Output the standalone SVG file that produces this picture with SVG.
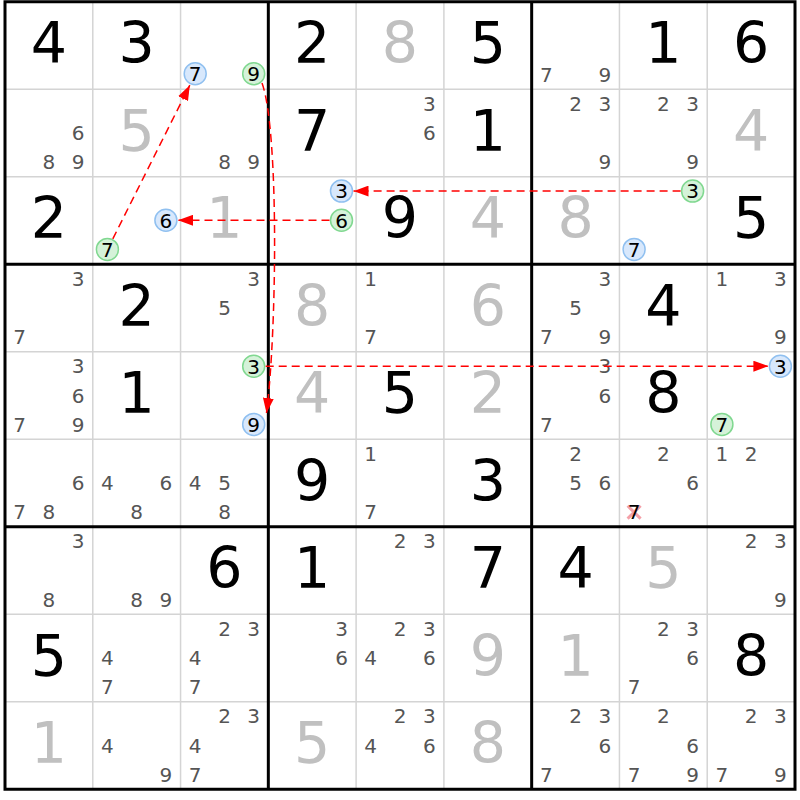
<svg xmlns="http://www.w3.org/2000/svg" width="800" height="800" viewBox="0 0 800 800">
<style>
text{font-family:"DejaVu Sans","Liberation Sans",sans-serif;text-anchor:middle}
.g{font-size:57px;fill:#000}
.s{font-size:57px;fill:#c0c0c0}
.c{font-size:20px;fill:#555}
.k{font-size:20px;fill:#000}
.cb{fill:#d8e8fc;stroke:#90c0f0;stroke-width:1.5}
.cg{fill:#d5f2d9;stroke:#80d890;stroke-width:1.5}
.thin{stroke:#d4d4d4;stroke-width:1.5}
.thick{stroke:#000;stroke-width:3}
.lk{fill:none;stroke:#ff0000;stroke-width:1.5;stroke-dasharray:8,5;marker-end:url(#ah)}
</style>
<defs>
<marker id="ah" markerWidth="15" markerHeight="11" refX="15" refY="5.5" orient="auto" markerUnits="userSpaceOnUse"><path d="M0,0 L15,5.5 L0,11 z" fill="#ff0000"/></marker>
</defs>
<rect x="0" y="0" width="800" height="800" fill="#fff"/>
<g id="grid">
<g class="thin">
<line x1="92.78" y1="1.75" x2="92.78" y2="789.25"/>
<line x1="180.56" y1="1.75" x2="180.56" y2="789.25"/>
<line x1="356.11" y1="1.75" x2="356.11" y2="789.25"/>
<line x1="443.89" y1="1.75" x2="443.89" y2="789.25"/>
<line x1="619.44" y1="1.75" x2="619.44" y2="789.25"/>
<line x1="707.22" y1="1.75" x2="707.22" y2="789.25"/>
<line x1="5" y1="89.25" x2="795" y2="89.25"/>
<line x1="5" y1="176.75" x2="795" y2="176.75"/>
<line x1="5" y1="351.75" x2="795" y2="351.75"/>
<line x1="5" y1="439.25" x2="795" y2="439.25"/>
<line x1="5" y1="614.25" x2="795" y2="614.25"/>
<line x1="5" y1="701.75" x2="795" y2="701.75"/>
</g>
<g class="thick">
<line x1="268.33" y1="1.75" x2="268.33" y2="789.25"/>
<line x1="531.67" y1="1.75" x2="531.67" y2="789.25"/>
<line x1="5" y1="264.25" x2="795" y2="264.25"/>
<line x1="5" y1="526.75" x2="795" y2="526.75"/>
<rect x="5" y="1.75" width="790" height="787.5" fill="none"/>
</g>
</g>
<g id="r1c1"><text class="g" x="48.9" y="63.3">4</text></g>
<g id="r1c2"><text class="g" x="136.7" y="63.3">3</text></g>
<g id="r1c3"><circle class="cb" cx="195.2" cy="73.8" r="11"/><text class="k" x="195.2" y="81.1">7</text><circle class="cg" cx="253.7" cy="73.8" r="11"/><text class="k" x="253.7" y="81.1">9</text></g>
<g id="r1c4"><text class="g" x="312.2" y="63.3">2</text></g>
<g id="r1c5"><text class="s" x="400" y="63.3">8</text></g>
<g id="r1c6"><text class="g" x="487.8" y="63.3">5</text></g>
<g id="r1c7"><text class="c" x="546.3" y="81.6">7</text><text class="c" x="604.8" y="81.6">9</text></g>
<g id="r1c8"><text class="g" x="663.3" y="63.3">1</text></g>
<g id="r1c9"><text class="g" x="751.1" y="63.3">6</text></g>

<g id="r2c1"><text class="c" x="78.2" y="140">6</text><text class="c" x="48.9" y="169.2">8</text><text class="c" x="78.2" y="169.2">9</text></g>
<g id="r2c2"><text class="s" x="136.7" y="150.8">5</text></g>
<g id="r2c3"><text class="c" x="224.5" y="169.2">8</text><text class="c" x="253.7" y="169.2">9</text></g>
<g id="r2c4"><text class="g" x="312.2" y="150.8">7</text></g>
<g id="r2c5"><text class="c" x="429.3" y="110.9">3</text><text class="c" x="429.3" y="140">6</text></g>
<g id="r2c6"><text class="g" x="487.8" y="150.8">1</text></g>
<g id="r2c7"><text class="c" x="575.6" y="110.9">2</text><text class="c" x="604.8" y="110.9">3</text><text class="c" x="604.8" y="169.2">9</text></g>
<g id="r2c8"><text class="c" x="663.3" y="110.9">2</text><text class="c" x="692.6" y="110.9">3</text><text class="c" x="692.6" y="169.2">9</text></g>
<g id="r2c9"><text class="s" x="751.1" y="150.8">4</text></g>

<g id="r3c1"><text class="g" x="48.9" y="238.3">2</text></g>
<g id="r3c2"><circle class="cb" cx="165.9" cy="220.3" r="11"/><text class="k" x="165.9" y="227.6">6</text><circle class="cg" cx="107.4" cy="249.4" r="11"/><text class="k" x="107.4" y="256.7">7</text></g>
<g id="r3c3"><text class="s" x="224.4" y="238.3">1</text></g>
<g id="r3c4"><circle class="cb" cx="341.5" cy="191.1" r="11"/><text class="k" x="341.5" y="198.4">3</text><circle class="cg" cx="341.5" cy="220.3" r="11"/><text class="k" x="341.5" y="227.6">6</text></g>
<g id="r3c5"><text class="g" x="400" y="238.3">9</text></g>
<g id="r3c6"><text class="s" x="487.8" y="238.3">4</text></g>
<g id="r3c7"><text class="s" x="575.6" y="238.3">8</text></g>
<g id="r3c8"><circle class="cg" cx="692.6" cy="191.1" r="11"/><text class="k" x="692.6" y="198.4">3</text><circle class="cb" cx="634.1" cy="249.4" r="11"/><text class="k" x="634.1" y="256.7">7</text></g>
<g id="r3c9"><text class="g" x="751.1" y="238.3">5</text></g>

<g id="r4c1"><text class="c" x="78.2" y="285.9">3</text><text class="c" x="19.6" y="344.2">7</text></g>
<g id="r4c2"><text class="g" x="136.7" y="325.8">2</text></g>
<g id="r4c3"><text class="c" x="253.7" y="285.9">3</text><text class="c" x="224.5" y="315">5</text></g>
<g id="r4c4"><text class="s" x="312.2" y="325.8">8</text></g>
<g id="r4c5"><text class="c" x="370.7" y="285.9">1</text><text class="c" x="370.7" y="344.2">7</text></g>
<g id="r4c6"><text class="s" x="487.8" y="325.8">6</text></g>
<g id="r4c7"><text class="c" x="604.8" y="285.9">3</text><text class="c" x="575.6" y="315">5</text><text class="c" x="546.3" y="344.2">7</text><text class="c" x="604.8" y="344.2">9</text></g>
<g id="r4c8"><text class="g" x="663.3" y="325.8">4</text></g>
<g id="r4c9"><text class="c" x="721.9" y="285.9">1</text><text class="c" x="780.4" y="285.9">3</text><text class="c" x="780.4" y="344.2">9</text></g>

<g id="r5c1"><text class="c" x="78.2" y="373.4">3</text><text class="c" x="78.2" y="402.5">6</text><text class="c" x="19.6" y="431.7">7</text><text class="c" x="78.2" y="431.7">9</text></g>
<g id="r5c2"><text class="g" x="136.7" y="413.3">1</text></g>
<g id="r5c3"><circle class="cg" cx="253.7" cy="366.2" r="11"/><text class="k" x="253.7" y="373.5">3</text><circle class="cb" cx="253.7" cy="424.4" r="11"/><text class="k" x="253.7" y="431.7">9</text></g>
<g id="r5c4"><text class="s" x="312.2" y="413.3">4</text></g>
<g id="r5c5"><text class="g" x="400" y="413.3">5</text></g>
<g id="r5c6"><text class="s" x="487.8" y="413.3">2</text></g>
<g id="r5c7"><text class="c" x="604.8" y="373.4">3</text><text class="c" x="604.8" y="402.5">6</text><text class="c" x="546.3" y="431.7">7</text></g>
<g id="r5c8"><text class="g" x="663.3" y="413.3">8</text></g>
<g id="r5c9"><circle class="cb" cx="780.4" cy="366.2" r="11"/><text class="k" x="780.4" y="373.5">3</text><circle class="cg" cx="721.9" cy="424.4" r="11"/><text class="k" x="721.9" y="431.7">7</text></g>

<g id="r6c1"><text class="c" x="78.2" y="490">6</text><text class="c" x="19.6" y="519.2">7</text><text class="c" x="48.9" y="519.2">8</text></g>
<g id="r6c2"><text class="c" x="107.4" y="490">4</text><text class="c" x="165.9" y="490">6</text><text class="c" x="136.7" y="519.2">8</text></g>
<g id="r6c3"><text class="c" x="195.2" y="490">4</text><text class="c" x="224.5" y="490">5</text><text class="c" x="224.5" y="519.2">8</text></g>
<g id="r6c4"><text class="g" x="312.2" y="500.8">9</text></g>
<g id="r6c5"><text class="c" x="370.7" y="460.9">1</text><text class="c" x="370.7" y="519.2">7</text></g>
<g id="r6c6"><text class="g" x="487.8" y="500.8">3</text></g>
<g id="r6c7"><text class="c" x="575.6" y="460.9">2</text><text class="c" x="575.6" y="490">5</text><text class="c" x="604.8" y="490">6</text></g>
<g id="r6c8"><text class="c" x="663.3" y="460.9">2</text><text class="c" x="692.6" y="490">6</text><path d="M627.6,505.8 L640.6,518.6 M640.6,505.8 L627.6,518.6" stroke="#f4a0a8" stroke-width="3" fill="none"/><text class="k" x="634.1" y="519.2">7</text></g>
<g id="r6c9"><text class="c" x="721.9" y="460.9">1</text><text class="c" x="751.1" y="460.9">2</text></g>

<g id="r7c1"><text class="c" x="78.2" y="548.4">3</text><text class="c" x="48.9" y="606.7">8</text></g>
<g id="r7c2"><text class="c" x="136.7" y="606.7">8</text><text class="c" x="165.9" y="606.7">9</text></g>
<g id="r7c3"><text class="g" x="224.4" y="588.3">6</text></g>
<g id="r7c4"><text class="g" x="312.2" y="588.3">1</text></g>
<g id="r7c5"><text class="c" x="400" y="548.4">2</text><text class="c" x="429.3" y="548.4">3</text></g>
<g id="r7c6"><text class="g" x="487.8" y="588.3">7</text></g>
<g id="r7c7"><text class="g" x="575.6" y="588.3">4</text></g>
<g id="r7c8"><text class="s" x="663.3" y="588.3">5</text></g>
<g id="r7c9"><text class="c" x="751.1" y="548.4">2</text><text class="c" x="780.4" y="548.4">3</text><text class="c" x="780.4" y="606.7">9</text></g>

<g id="r8c1"><text class="g" x="48.9" y="675.8">5</text></g>
<g id="r8c2"><text class="c" x="107.4" y="665">4</text><text class="c" x="107.4" y="694.2">7</text></g>
<g id="r8c3"><text class="c" x="224.5" y="635.9">2</text><text class="c" x="253.7" y="635.9">3</text><text class="c" x="195.2" y="665">4</text><text class="c" x="195.2" y="694.2">7</text></g>
<g id="r8c4"><text class="c" x="341.5" y="635.9">3</text><text class="c" x="341.5" y="665">6</text></g>
<g id="r8c5"><text class="c" x="400" y="635.9">2</text><text class="c" x="429.3" y="635.9">3</text><text class="c" x="370.7" y="665">4</text><text class="c" x="429.3" y="665">6</text></g>
<g id="r8c6"><text class="s" x="487.8" y="675.8">9</text></g>
<g id="r8c7"><text class="s" x="575.6" y="675.8">1</text></g>
<g id="r8c8"><text class="c" x="663.3" y="635.9">2</text><text class="c" x="692.6" y="635.9">3</text><text class="c" x="692.6" y="665">6</text><text class="c" x="634.1" y="694.2">7</text></g>
<g id="r8c9"><text class="g" x="751.1" y="675.8">8</text></g>

<g id="r9c1"><text class="s" x="48.9" y="763.3">1</text></g>
<g id="r9c2"><text class="c" x="107.4" y="752.5">4</text><text class="c" x="165.9" y="781.7">9</text></g>
<g id="r9c3"><text class="c" x="224.5" y="723.4">2</text><text class="c" x="253.7" y="723.4">3</text><text class="c" x="195.2" y="752.5">4</text><text class="c" x="195.2" y="781.7">7</text></g>
<g id="r9c4"><text class="s" x="312.2" y="763.3">5</text></g>
<g id="r9c5"><text class="c" x="400" y="723.4">2</text><text class="c" x="429.3" y="723.4">3</text><text class="c" x="370.7" y="752.5">4</text><text class="c" x="429.3" y="752.5">6</text></g>
<g id="r9c6"><text class="s" x="487.8" y="763.3">8</text></g>
<g id="r9c7"><text class="c" x="575.6" y="723.4">2</text><text class="c" x="604.8" y="723.4">3</text><text class="c" x="604.8" y="752.5">6</text><text class="c" x="546.3" y="781.7">7</text></g>
<g id="r9c8"><text class="c" x="663.3" y="723.4">2</text><text class="c" x="692.6" y="752.5">6</text><text class="c" x="634.1" y="781.7">7</text><text class="c" x="692.6" y="781.7">9</text></g>
<g id="r9c9"><text class="c" x="751.1" y="723.4">2</text><text class="c" x="780.4" y="723.4">3</text><text class="c" x="721.9" y="781.7">7</text><text class="c" x="780.4" y="781.7">9</text></g>

<g id="links">
<path class="lk" d="M112.8,238.9 L189.8,85.2"/>
<path class="lk" d="M262,83 C279,130 277,330 266.5,413"/>
<path class="lk" d="M329.5,220.3 L178,220.3"/>
<path class="lk" d="M680.6,191.1 L353.5,191.1"/>
<path class="lk" d="M265.7,366.2 L768.4,366.2"/>
</g>
</svg>
